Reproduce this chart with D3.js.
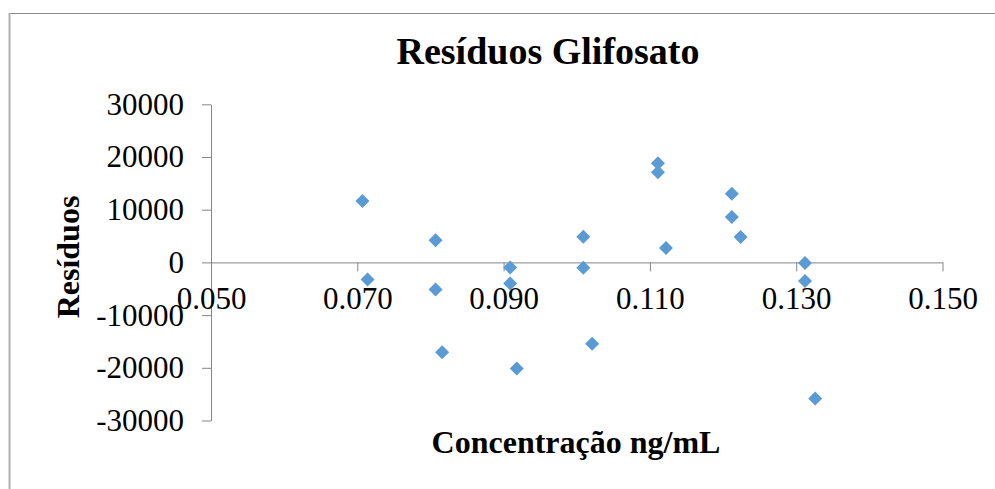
<!DOCTYPE html>
<head>
    <title>Resíduos Glifosato</title>
    <meta charset="utf-8">
    <script src="https://d3js.org/d3.v7.min.js"></script>
    <style>
        body {
            margin: 0;
            background: #fff;
        }

        text {
            font-family: "Liberation Serif", "Times New Roman", serif;
            fill: #000;
        }

        .axis path,
        .axis line {
            stroke: #868686;
            stroke-width: 1;
        }

        .axis text {
            font-size: 31px;
        }

        .title {
            font-size: 38px;
            font-weight: bold;
        }

        .axis-title {
            font-size: 32px;
            font-weight: bold;
        }
    </style>
</head>

<body>
    <svg id="chart" width="995" height="489"></svg>
    <script type="text/javascript">
        // concentration (ng/mL) and residual of each point
        var concentration = [0.0707, 0.0714, 0.0807, 0.0807, 0.0816, 0.0909, 0.0909, 0.0918, 0.1009, 0.1009,
            0.1021, 0.1111, 0.1111, 0.1122, 0.1212, 0.1212, 0.1224, 0.1312, 0.1312, 0.1326];
        var residuals = [11640, -3230, 4180, -5130, -17030, -950, -3990, -20130, 4860, -1030,
            -15460, 18800, 17090, 2720, 13030, 8600, 4800, -130, -3550, -25820];
        var xTicks = [0.05, 0.07, 0.09, 0.11, 0.13, 0.15];
        var yTicks = [-30000, -20000, -10000, 0, 10000, 20000, 30000];

        var svg = d3.select("#chart");

        var x = d3.scaleLinear().domain([0.05, 0.15]).range([211, 942.5]);
        var y = d3.scaleLinear().domain([-30000, 30000]).range([420.5, 104.3]);

        // outer frame (only top and left edges show)
        svg.append("line")
            .attr("x1", 9).attr("x2", 995).attr("y1", 13.5).attr("y2", 13.5)
            .attr("stroke", "#8c8c8c");
        svg.append("line")
            .attr("x1", 9.5).attr("x2", 9.5).attr("y1", 13).attr("y2", 489)
            .attr("stroke", "#b0b0b0").attr("stroke-width", 2);

        // axes
        svg.append("g")
            .attr("class", "axis")
            .attr("transform", "translate(" + x(0.05) + ",0)")
            .call(d3.axisLeft(y).tickValues(yTicks).tickSize(9).tickSizeOuter(0).tickPadding(18)
                .tickFormat(function(d) { return String(d); }));

        svg.append("g")
            .attr("class", "axis")
            .attr("transform", "translate(0," + y(0) + ")")
            .call(d3.axisBottom(x).tickValues(xTicks).tickSize(9).tickSizeOuter(0).tickPadding(16)
                .tickFormat(d3.format(".3f")));

        // points
        var points = concentration.map(function(c, i) {
            return { x: c, y: residuals[i] };
        });

        svg.append("g")
            .selectAll("path")
            .data(points).enter()
            .append("path")
            .attr("transform", function(d) {
                return "translate(" + x(d.x) + "," + y(d.y) + ")";
            })
            .attr("d", "M0,-7L7,0L0,7L-7,0Z")
            .attr("fill", "#5b9bd5");

        // titles
        svg.append("text")
            .attr("class", "title")
            .attr("x", 548).attr("y", 64)
            .attr("text-anchor", "middle")
            .text("Resíduos Glifosato");

        svg.append("text")
            .attr("class", "axis-title")
            .attr("x", 576).attr("y", 453)
            .attr("text-anchor", "middle")
            .text("Concentração ng/mL");

        svg.append("text")
            .attr("class", "axis-title")
            .attr("transform", "translate(79,257) rotate(-90)")
            .attr("text-anchor", "middle")
            .text("Resíduos");
    </script>
</body>
